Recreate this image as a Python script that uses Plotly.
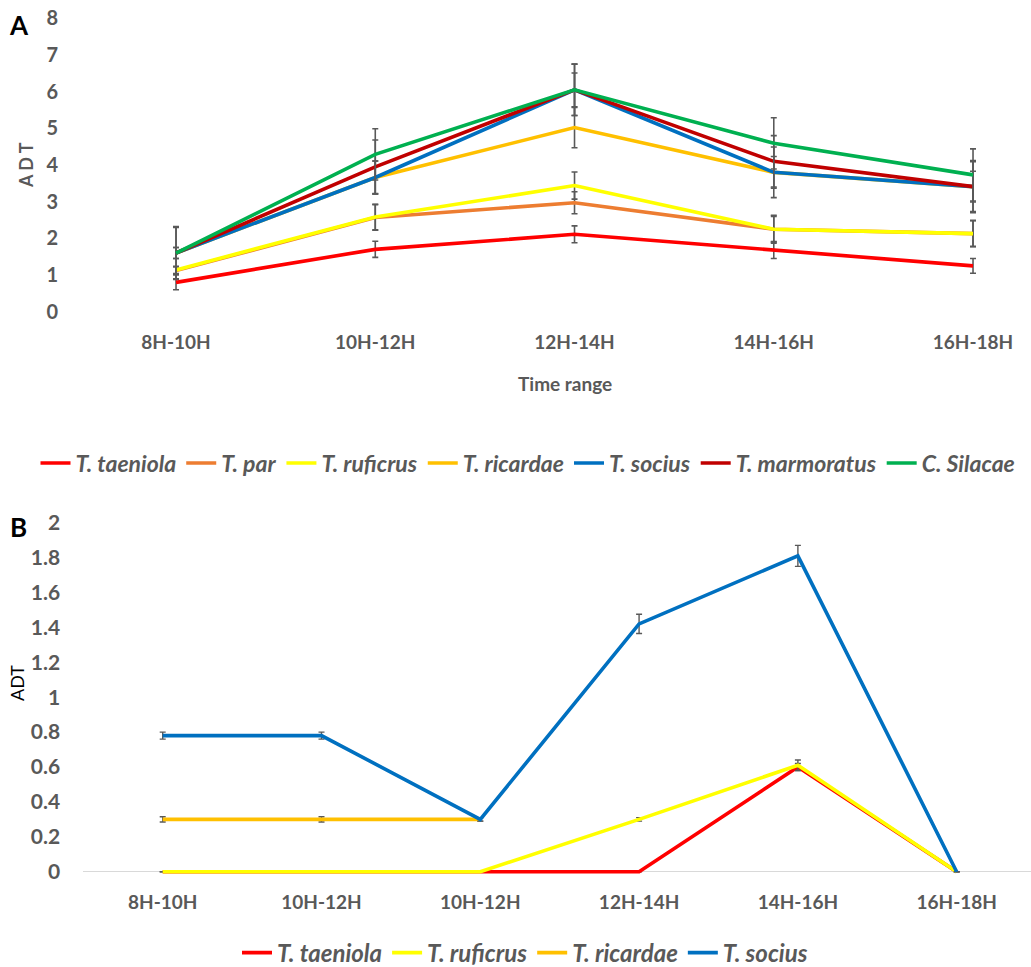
import plotly.graph_objects as go

W, H = 1031, 967

# ---------------- Data: chart A ----------------
cats_a = ["8H-10H", "10H-12H", "12H-14H", "14H-16H", "16H-18H"]
names_a = ["T. taeniola", "T. par", "T. ruficrus", "T. ricardae", "T. socius", "T. marmoratus", "C. Silacae"]
taeniola_a = [0.80, 1.70, 2.11, 1.68, 1.25]
par_a = [1.12, 2.57, 2.97, 2.25, 2.13]
ruficrus_a = [1.14, 2.58, 3.44, 2.25, 2.13]
ricardae_a = [1.60, 3.66, 5.02, 3.80, 3.41]
socius_a = [1.60, 3.66, 6.05, 3.80, 3.41]
marmoratus_a = [1.60, 3.95, 6.05, 4.10, 3.41]
silacae_a = [1.60, 4.29, 6.05, 4.59, 3.73]
err_taeniola_a = [0.20, 0.22, 0.23, 0.23, 0.20]
err_par_a = [0.10, 0.35, 0.30, 0.35, 0.35]
err_ruficrus_a = [0.10, 0.35, 0.37, 0.38, 0.36]
err_ricardae_a = [0.15, 0.45, 0.55, 0.43, 0.42]
err_socius_a = [0.15, 0.45, 0.46, 0.69, 0.68]
err_marmoratus_a = [0.70, 0.73, 0.70, 0.70, 0.71]
err_silacae_a = [0.72, 0.70, 0.70, 0.70, 0.71]

# ---------------- Data: chart B ----------------
cats_b = ["8H-10H", "10H-12H", "10H-12H", "12H-14H", "14H-16H", "16H-18H"]
names_b = ["T. taeniola", "T. ruficrus", "T. ricardae", "T. socius"]
taeniola_b = [0, 0, 0, 0, 0.60, 0]
ruficrus_b = [0, 0, 0, 0.30, 0.61, 0]
ricardae_b = [0.30, 0.30, 0.30, None, None, None]
socius_b = [0.78, 0.78, 0.30, 1.42, 1.81, 0]
err_taeniola_b = [0, 0, 0, 0, 0.02, 0]
err_ruficrus_b = [0, 0, 0, 0.01, 0.03, 0]
err_ricardae_b = [0.015, 0.015, 0.01, 0, 0, 0]
err_socius_b = [0.02, 0.02, 0.01, 0.055, 0.06, 0]

colors = {
    "T. taeniola": "#FF0000",
    "T. par": "#ED7D31",
    "T. ruficrus": "#FFFF00",
    "T. ricardae": "#FFC000",
    "T. socius": "#0070C0",
    "T. marmoratus": "#C00000",
    "C. Silacae": "#00B050",
}

GRAY = "#595959"
FONT = "Lato, 'Open Sans', sans-serif"

fig = go.Figure()

series_a = [
    ("T. taeniola", taeniola_a, err_taeniola_a),
    ("T. par", par_a, err_par_a),
    ("T. ruficrus", ruficrus_a, err_ruficrus_a),
    ("T. ricardae", ricardae_a, err_ricardae_a),
    ("T. socius", socius_a, err_socius_a),
    ("T. marmoratus", marmoratus_a, err_marmoratus_a),
    ("C. Silacae", silacae_a, err_silacae_a),
]
for name, vals, errs in series_a:
    fig.add_trace(go.Scatter(
        x=list(range(len(cats_a))), y=vals, name=name, mode="lines",
        line=dict(color=colors[name], width=3.6),
        error_y=dict(type="data", array=errs, visible=True, color=GRAY, thickness=1.6, width=3),
        xaxis="x", yaxis="y", legend="legend",
    ))

series_b = [
    ("T. taeniola", taeniola_b, err_taeniola_b),
    ("T. ruficrus", ruficrus_b, err_ruficrus_b),
    ("T. ricardae", ricardae_b, err_ricardae_b),
    ("T. socius", socius_b, err_socius_b),
]
for name, vals, errs in series_b:
    fig.add_trace(go.Scatter(
        x=list(range(len(cats_b))), y=vals, name=name, mode="lines",
        line=dict(color=colors[name], width=3.6),
        error_y=dict(type="data", array=errs, visible=True, color=GRAY, thickness=1.4, width=3),
        xaxis="x2", yaxis="y2", legend="legend2",
    ))

def fy(p):
    return 1 - p / H

tickfont = dict(family=FONT, size=19, color=GRAY, weight="bold")
legfont = dict(family=FONT, size=23, color=GRAY, weight="bold", style="italic")
legfont2 = dict(family=FONT, size=24, color=GRAY, weight="bold", style="italic")

def ann(text, x, y, size, color, angle=0):
    return dict(text=text, x=x / W, y=fy(y), xref="paper", yref="paper",
                xanchor="center", yanchor="middle", showarrow=False,
                textangle=angle, font=dict(family=FONT, size=size, color=color))

fig.update_layout(
    width=W, height=H,
    margin=dict(l=0, r=0, t=0, b=0, autoexpand=False),
    paper_bgcolor="white", plot_bgcolor="white",
    xaxis=dict(domain=[77 / W, 1], range=[-0.497, 4.291],
               tickmode="array", tickvals=list(range(len(cats_a))), ticktext=cats_a,
               showgrid=False, zeroline=False, showline=False,
               ticks="outside", ticklen=13, tickcolor="rgba(0,0,0,0)",
               tickfont=tickfont, anchor="y"),
    yaxis=dict(domain=[fy(311.7), fy(18.3)], range=[0, 8], dtick=1,
               showgrid=False, zeroline=False, showline=False,
               ticks="outside", ticklen=14, tickcolor="rgba(0,0,0,0)",
               tickfont=dict(family=FONT, size=20, color=GRAY, weight="bold"), anchor="x"),
    xaxis2=dict(domain=[83.3 / W, 1], range=[-0.5, 5.468],
                tickmode="array", tickvals=list(range(len(cats_b))), ticktext=cats_b,
                showgrid=False, zeroline=False, showline=False,
                ticks="outside", ticklen=10, tickcolor="rgba(0,0,0,0)",
                tickfont=tickfont, anchor="y2"),
    yaxis2=dict(domain=[fy(875.2), fy(522.7)], range=[-0.02, 2], dtick=0.2, tick0=0,
                showgrid=False, zeroline=True, zerolinecolor="#D9D9D9", zerolinewidth=1.2,
                showline=False,
                ticks="outside", ticklen=18, tickcolor="rgba(0,0,0,0)",
                tickfont=dict(family=FONT, size=21, color=GRAY, weight="bold"), anchor="x2"),
    legend=dict(orientation="h", x=528 / W, xanchor="center", y=fy(463), yanchor="middle",
                font=legfont, bgcolor="rgba(0,0,0,0)", itemwidth=30, tracegroupgap=0),
    legend2=dict(orientation="h", x=525 / W, xanchor="center", y=fy(953), yanchor="middle",
                 font=legfont2, bgcolor="rgba(0,0,0,0)", itemwidth=30, tracegroupgap=0),
    annotations=[
        ann("<b>A</b>", 19, 25, 26, "black"),
        ann("<b>B</b>", 18, 527, 26, "black"),
        ann("<b>A D T</b>", 26, 165, 18, GRAY, -90),
        ann("ADT", 17, 683, 18, "black", -90),
        ann("<b>Time range</b>", 565, 383, 19, GRAY),
    ],
)

fig.write_html("out.html", config={"displayModeBar": False},
               post_script="document.body.style.margin='0';document.body.style.overflow='hidden';")
